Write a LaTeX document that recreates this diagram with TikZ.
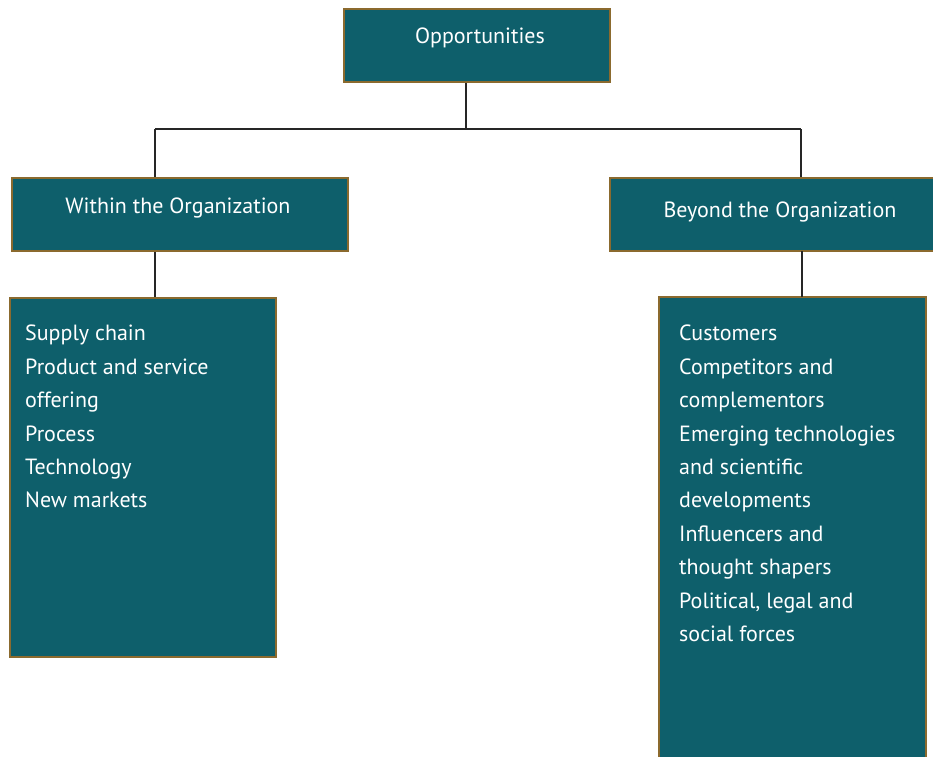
\documentclass[tikz,border=0pt]{standalone}
\usepackage{fontspec}
\setmainfont{PT Sans}
\definecolor{boxfill}{HTML}{0E5F6B}
\definecolor{boxedge}{HTML}{8B6A2E}
\begin{document}
\begin{tikzpicture}[x=1pt,y=-1pt,
  box/.style={draw=boxedge,line width=2.8pt,fill=boxfill,inner sep=0pt},
  lbl/.style={text=white,inner sep=0pt,font=\fontsize{22}{33.4}\selectfont},
  conn/.style={draw=black!85,line width=2pt}]
\useasboundingbox (0,0) rectangle (933,756);
\clip (0,0) rectangle (933,756);
\node[box,minimum width=266pt,minimum height=73pt] (opp) at (477,45.5) {};
\node[lbl] (oppt) at (480,38) {Opportunities};
\node[box,minimum width=336pt,minimum height=73pt] (within) at (180,214.5) {};
\node[lbl] (withint) at (178,208) {Within the Organization};
\node[box,minimum width=340pt,minimum height=73pt] (beyond) at (780,214.5) {};
\node[lbl] (beyondt) at (780,212) {Beyond the Organization};
\node[box,minimum width=266pt,minimum height=359pt] (wlist) at (143,477.5) {};
\node[box,minimum width=267pt,minimum height=480pt] (blist) at (792.5,537) {};
\node[lbl,anchor=north west,align=left] (wtext) at (25,325) {Supply chain\\Product and service\\offering\\Process\\Technology\\New markets};
\node[lbl,anchor=north west,align=left] (btext) at (679,325) {Customers\\Competitors and\\complementors\\Emerging technologies\\and scientific\\developments\\Influencers and\\thought shapers\\Political, legal and\\social forces};
\coordinate (hl) at (155,129);
\coordinate (hr) at (801,129);
\coordinate (hm) at (466,129);
\draw[conn] (hm |- opp.south) -- (hm);
\draw[conn] (hl) -- (hr);
\draw[conn] (hl) -- (hl |- within.north);
\draw[conn] (hr) -- (hr |- beyond.north);
\draw[conn] (hl |- within.south) -- (hl |- wlist.north);
\draw[conn] (802,251) -- (802,297);
\end{tikzpicture}
\end{document}
